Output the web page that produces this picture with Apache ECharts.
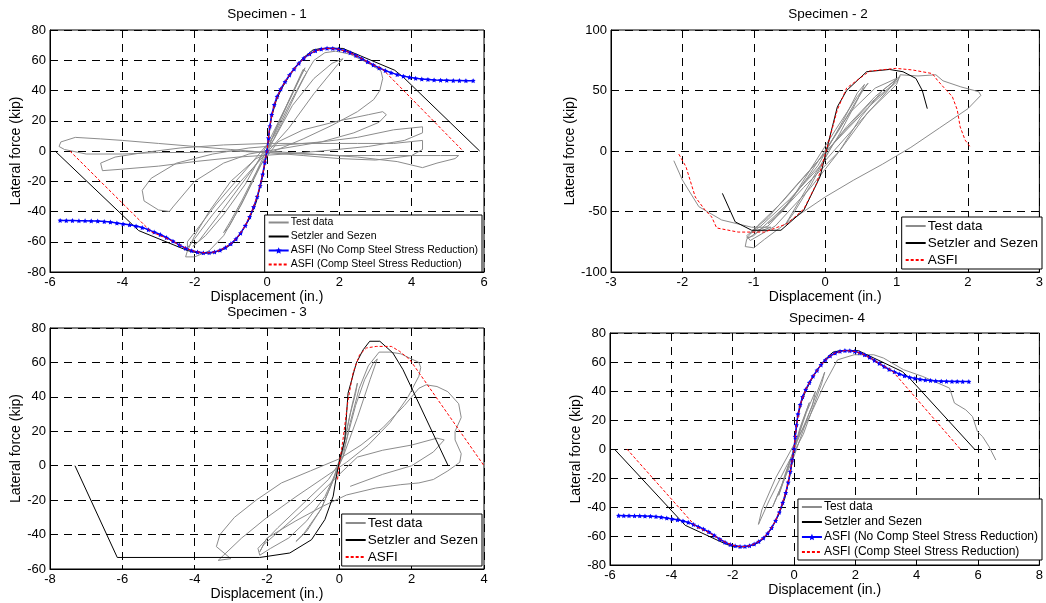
<!DOCTYPE html>
<html>
<head>
<meta charset="utf-8">
<script src="https://cdn.jsdelivr.net/npm/echarts@6/dist/echarts.min.js"></script>
<style>
html, body { margin: 0; padding: 0; background: #fff; }
#main { width: 1046px; height: 603px; }
</style>
</head>
<body>
<div id="main"></div>
<script>
// model curves, same for specimen 1 and 4
var modelSetzler = [[-5.86,0],[-3.55,-52.6],[-2.2,-65.8],[-2.0,-67.0],[-1.75,-67.6],[-1.5,-67.3],[-1.25,-65.6],[-1.0,-62.0],[-0.75,-55.5],[-0.5,-45.5],[-0.3,-34],[-0.15,-20],[-0.05,-8],[0,0],[0.05,10],[0.12,22],[0.25,33],[0.4,41],[0.6,49],[0.8,56],[1.0,61.5],[1.27,66.8],[1.5,67.8],[1.8,68],[2.1,67.8],[3.53,53.4],[3.76,49],[5.88,0]];
var modelAsfiNo = [[-5.72,-45.9],[-5.55,-46.0],[-5.38,-46.0],[-5.2,-46.1],[-5.03,-46.1],[-4.86,-46.2],[-4.68,-46.3],[-4.5,-46.6],[-4.33,-47.0],[-4.15,-47.6],[-3.98,-48.2],[-3.8,-48.8],[-3.62,-49.6],[-3.45,-50.6],[-3.28,-52.0],[-3.12,-53.6],[-2.95,-55.2],[-2.78,-57.2],[-2.6,-59.6],[-2.42,-62.2],[-2.25,-64.3],[-2.08,-65.9],[-1.92,-66.8],[-1.76,-67.3],[-1.6,-67.2],[-1.45,-66.7],[-1.3,-65.6],[-1.15,-63.8],[-1.0,-61.4],[-0.86,-58.2],[-0.73,-54.3],[-0.6,-49.4],[-0.48,-43.6],[-0.37,-37.0],[-0.27,-30.2],[-0.19,-23.0],[-0.12,-15.5],[-0.06,-7.5],[0,0],[0.04,8.5],[0.08,16.5],[0.13,24.0],[0.2,30.5],[0.28,36.0],[0.38,41.0],[0.5,45.8],[0.62,50.2],[0.75,54.2],[0.88,58.0],[1.02,61.4],[1.18,64.2],[1.34,66.2],[1.5,67.4],[1.66,67.9],[1.82,67.8],[1.98,67.3],[2.14,66.4],[2.3,65.0],[2.46,63.2],[2.62,61.1],[2.78,59.0],[2.94,56.9],[3.1,54.9],[3.27,53.2],[3.43,51.8],[3.6,50.5],[3.77,49.5],[3.94,48.7],[4.11,48.1],[4.28,47.6],[4.45,47.3],[4.62,47.0],[4.8,46.8],[4.97,46.7],[5.15,46.6],[5.32,46.6],[5.5,46.5],[5.7,46.5]];
var modelAsfiComp = [[-5.45,0],[-3.2,-53.5],[-3.0,-55.5],[-2.8,-57.5],[-2.6,-59.8],[-2.4,-62.4],[-2.2,-64.7],[-2.0,-66.3],[-1.8,-67.2],[-1.6,-67.3],[-1.4,-66.5],[-1.2,-64.4],[-1.0,-61.4],[-0.8,-56.5],[-0.6,-49.4],[-0.4,-38.8],[-0.25,-28.5],[-0.12,-15.5],[0,0],[0.08,16.5],[0.2,30.5],[0.38,41],[0.6,49.5],[0.85,57.2],[1.1,63],[1.35,66.3],[1.65,67.9],[1.95,67.4],[2.25,65.4],[2.55,62],[2.85,58],[3.2,54],[5.42,0]];

var s1Test = [[0,0],[0.3,18],[0.6,33],[0.9,48],[1.05,55],[0.95,50],[0.55,30],[0.1,6],[-0.3,-14],[-0.7,-33],[-1.0,-46],[-1.2,-54],[-1.05,-50],[-0.6,-30],[-0.1,-6],
  [0.4,18],[0.8,38],[1.1,52],[1.0,54],[0.5,28],[0,4],[-0.6,-22],[-1.2,-42],[-1.7,-56],[-2.05,-63],[-1.9,-60],[-1.2,-38],[-0.4,-12],[0.2,8],
  [0.7,30],[1.3,48],[1.8,58],[2.1,61],[1.95,57],[1.3,38],[0.6,15],[0,-1],[-0.8,-22],[-1.5,-42],[-2.0,-58],[-2.2,-64],[-2.2,-60],[-1.4,-35],[-0.5,-10],[0.2,10],
  [0.6,30],[1.0,48],[1.3,60],[1.6,65],[1.9,66],[2.3,64],[2.8,58],[3.15,53],[3.2,48],[3.12,40],[2.95,34],[2.5,26],[1.8,17],[1.0,8],[0.3,1],[-0.3,-5],[-1.0,-20],[-1.6,-40],[-2.0,-56],[-2.2,-66],[-2.25,-70],[-2.0,-70],[-1.6,-66],[-1.2,-56],[-0.7,-35],[-0.2,-10],[0.3,6],
  [1.0,14],[2.0,20],[2.8,24],[3.2,26],[3.3,24],[3.1,19],[2.4,12],[1.5,6],[0.5,2],[-0.5,-2],[-1.2,-8],[-2.0,-20],[-2.6,-37],[-2.7,-40],[-3.0,-39],[-3.4,-33],[-3.45,-26],[-3.2,-18],[-2.5,-8],[-1.5,-2],[-0.5,2],
  [0.5,4],[1.5,6],[2.5,9],[3.5,14],[4.3,16],[4.3,12],[3.8,7],[2.8,3],[1.5,0],[0.5,-2],[-0.8,-4],[-2.0,-7],[-3.0,-10],[-4.0,-12],[-4.55,-13],[-4.6,-8],[-4.2,-4],[-3.4,-1],[-2.4,2],[-1.2,4],
  [0,5],[1.2,5],[2.5,5],[3.5,5],[4.3,7],[4.3,1],[4.0,-3],[3.0,-6],[2.0,-5],[1.0,-3],[0,-1],[-1.0,1],[-2.0,3],[-3.0,5],[-4.0,7],[-4.6,8],[-5.3,9],[-5.7,6],[-5.75,3],[-5.6,1],[-5.0,-2],[-4.0,-2],[-3.0,-1],[-2.0,-1],[-1.0,0],
  [0,-1],[1.0,-2],[2.0,-3],[3.0,-3],[4.0,-3],[4.8,-3],[5.3,-3],[5.2,-5],[4.7,-8],[4.3,-11],[3.6,-7],[2.5,-4],[1.2,-2],[0,0]];

var s2Test = [[0,0],[0.2,18],[0.4,38],[0.55,52],[0.6,56],[0.45,45],[0.15,18],[-0.15,-10],[-0.45,-38],[-0.7,-55],[-0.8,-60],[-0.6,-50],[-0.25,-22],[0.05,5],
  [0.35,32],[0.7,52],[1.0,60],[0.95,55],[0.6,38],[0.2,12],[-0.2,-15],[-0.6,-42],[-0.95,-62],[-1.1,-72],[-1.0,-70],[-0.55,-45],[-0.1,-12],
  [0.25,25],[0.45,48],[0.55,55],[0.45,42],[0.2,14],[-0.1,-15],[-0.35,-40],[-0.55,-60],[-0.45,-52],[-0.2,-28],[0.1,5],
  [0.3,20],[0.7,45],[1.05,62],[1.0,57],[0.6,36],[0.1,5],[-0.4,-28],[-0.8,-55],[-1.1,-70],[-1.05,-74],[-0.7,-62],[-0.2,-30],[0.2,0],
  [0.5,28],[0.8,50],[1.0,59],[0.85,48],[0.45,22],[0,-8],[-0.5,-40],[-0.9,-62],[-1.05,-68],[-0.8,-62],[-0.3,-30],[0.2,0],
  [0.6,32],[1.0,55],[1.05,63],[1.3,62],[1.55,63],[1.65,58],[1.9,53],[2.15,49],[2.18,46],[2.0,35],[1.6,19],[1.2,3],[0.8,-11],[0.4,-24],[0,-38],[-0.3,-50],[-0.6,-62],[-0.85,-73],[-1.0,-80],[-1.12,-79],[-1.1,-73],[-0.95,-67],[-0.76,-63],[-1.03,-63],[-1.45,-57],[-1.77,-46],[-2.0,-24],[-2.12,-8]];
var s2Setzler = [[-1.44,-35],[-1.26,-58.6],[-1.03,-65.5],[-0.62,-65.5],[-0.3,-49],[-0.07,-21],[0.03,3.4],[0.17,36.5],[0.3,50],[0.58,65.5],[0.9,67.4],[1.09,65.5],[1.27,60],[1.36,50],[1.43,35]];
var s2Asfi = [[-2.05,-2.6],[-1.95,-13],[-1.82,-38],[-1.68,-49],[-1.59,-54.5],[-1.52,-63.6],[-1.22,-67],[-0.85,-67],[-0.53,-60],[-0.3,-48],[-0.12,-27],[0.03,3.4],[0.17,34],[0.3,52],[0.62,66],[0.99,68.3],[1.22,67],[1.5,64],[1.57,58.6],[1.66,52.6],[1.78,45],[1.85,34],[1.89,20],[1.96,9],[2.03,3.4]];

var s3Test = [[0,0],[0.15,15],[0.3,30],[0.45,42],[0.5,48],[0.35,35],[0.1,10],[-0.2,-10],[-0.5,-25],[-0.9,-38],[-1.2,-44],[-1.0,-40],[-0.5,-25],[-0.1,-5],
  [0.2,15],[0.45,35],[0.7,50],[0.95,60],[1.05,62],[0.85,50],[0.5,28],[0.1,5],[-0.4,-18],[-0.9,-32],[-1.4,-42],[-1.9,-48],[-2.2,-52],[-2.25,-48],[-1.7,-36],[-1.0,-22],[-0.3,-8],[0.1,5],
  [0.3,25],[0.55,45],[0.8,58],[1.1,66],[1.4,66],[1.7,65],[2.0,62],[2.2,60],[2.25,57],[2.2,52],[1.9,40],[1.4,25],[0.8,12],[0.2,2],[-0.5,-8],[-1.2,-18],[-2.0,-30],[-2.7,-42],[-3.2,-52],[-3.35,-55],[-3.0,-54],[-3.4,-47],[-3.3,-40],[-2.9,-30],[-2.3,-20],[-1.6,-10],[-0.8,-3],[0,4],
  [0.6,12],[1.2,22],[1.8,35],[2.2,45],[2.4,47],[2.7,46],[3.0,43],[3.3,36],[3.37,28],[3.2,20],[3.2,15],[3.37,7],[3.33,2],[3.0,-3],[2.6,-8],[2.2,-10],[1.7,-11],[1.0,-13],[0.2,-17],[-0.5,-24],[-1.2,-32],[-2.0,-42],[-2.2,-50],[-2.1,-46],[-1.5,-35],[-0.8,-22],[0,-5],
  [0.5,5],[1.2,9],[2.0,12],[2.7,16],[2.9,15],[2.6,8],[2.0,0],[1.2,-5],[0.3,-12]];
var s3Setzler = [[-7.31,0],[-6.14,-53.3],[-2.2,-53.3],[-1.37,-50.7],[-0.77,-43],[-0.4,-31.3],[-0.17,-17.7],[-0.08,-6],[0.01,3.3],[0.15,15],[0.24,42],[0.47,59.7],[0.66,67.4],[0.84,72.3],[1.12,72.3],[1.48,65.5],[1.76,55.8],[3.0,0.4]];
var s3Asfi = [[-0.05,-8],[0,1],[0.1,15],[0.24,38],[0.38,54],[0.56,64.5],[0.75,68.4],[1.02,69.3],[1.44,69.3],[1.67,66.4],[1.95,61.6],[4.0,0]];

var s4Test = [[0,0],[0.2,15],[0.5,32],[0.3,20],[0,0],[-0.3,-18],[-0.5,-32],[-0.3,-20],[0,0],[0.4,25],[0.7,40],[0.6,30],[0.1,5],[-0.4,-25],[-0.7,-40],[-0.5,-30],[0,-5],[0.5,25],[1.0,53],[0.9,45],[0.3,10],[-0.2,-10],[-0.8,-35],[-1.16,-52],[-1.05,-42],[-0.6,-20],[0,3],[0.5,22],[1.0,45],[1.42,61.5],[1.96,65],[2.6,65],[2.92,62.7],[3.57,54.7],[4.2,50],[5.07,42],[5.23,31.7],[5.6,27],[5.82,22.4],[5.98,12],[6.15,8.5],[6.36,1.6],[6.58,-7.6]];

var star = 'path://M0,-10L2.9,-4L9.5,-3.1L4.8,1.5L5.9,8.1L0,5L-5.9,8.1L-4.8,1.5L-9.5,-3.1L-2.9,-4Z';
var font = 'Liberation Sans';

var dom = document.getElementById('main');
var myChart = echarts.init(dom);

function xAx(idx, min, max, step, gap) {
	return {
		gridIndex: idx, type: 'value', min: min, max: max, interval: step,
		name: 'Displacement (in.)', nameLocation: 'middle', nameGap: gap,
		nameTextStyle: { fontSize: 14, color: '#000', fontFamily: font },
		axisLine: { show: true, onZero: false, lineStyle: { color: '#000' } },
		axisTick: { show: true, inside: true, length: 4, lineStyle: { color: '#000' } },
		axisLabel: { color: '#000', fontSize: 13, fontFamily: font, margin: 4 },
		splitLine: { show: true, lineStyle: { color: '#000', type: [8, 6], width: 1 } }
	};
}
function yAx(idx, min, max, step, gap) {
	return {
		gridIndex: idx, type: 'value', min: min, max: max, interval: step,
		name: 'Lateral force (kip)', nameLocation: 'middle', nameGap: gap,
		nameTextStyle: { fontSize: 14, color: '#000', fontFamily: font },
		axisLine: { show: true, onZero: false, lineStyle: { color: '#000' } },
		axisTick: { show: true, inside: true, length: 4, lineStyle: { color: '#000' } },
		axisLabel: { color: '#000', fontSize: 13, fontFamily: font, margin: 4 },
		splitLine: { show: true, lineStyle: { color: '#000', type: [8, 6], width: 1 } }
	};
}
function testS(name, idx, data) {
	return { name: name, type: 'line', xAxisIndex: idx, yAxisIndex: idx, data: data, symbol: 'none',
		lineStyle: { color: '#8c8c8c', width: 1 }, itemStyle: { color: '#8c8c8c' }, z: 2 };
}
function setzS(idx, data) {
	return { name: 'Setzler and Sezen', type: 'line', xAxisIndex: idx, yAxisIndex: idx, data: data, symbol: 'none',
		lineStyle: { color: '#000', width: 1 }, itemStyle: { color: '#000' }, z: 3 };
}
function redS(name, idx, data) {
	return { name: name, type: 'line', xAxisIndex: idx, yAxisIndex: idx, data: data, symbol: 'none',
		lineStyle: { color: '#ff0000', width: 1, type: [3, 2] }, itemStyle: { color: '#ff0000' }, z: 5 };
}
function blueS(idx, data) {
	return { name: 'ASFI (No Comp Steel Stress Reduction)', type: 'line', xAxisIndex: idx, yAxisIndex: idx, data: data,
		symbol: star, symbolSize: 5, showSymbol: true,
		lineStyle: { color: '#0000ff', width: 1.5 }, itemStyle: { color: '#0000ff' }, z: 4 };
}
function legend(names, right, top, fs, gap) {
	return {
		data: names.map(function(n) {
			return n.indexOf('No Comp') > -1 ? { name: n, itemStyle: { opacity: 1 } } : { name: n };
		}),
		orient: 'vertical', right: right, top: top, selectedMode: false,
		backgroundColor: '#fff', borderColor: '#000', borderWidth: 1, borderRadius: 0,
		padding: [2, 4, 2, 3], itemWidth: 20, itemHeight: 8, itemGap: gap,
		itemStyle: { opacity: 0 },
		textStyle: { fontSize: fs, color: '#000', fontFamily: font, padding: [0, 0, 0, -3] }
	};
}
var tStyle = { fontSize: 13.5, fontWeight: 'normal', color: '#000', fontFamily: font };
var longNames = ['Test data', 'Setzler and Sezen', 'ASFI (No Comp Steel Stress Reduction)', 'ASFI (Comp Steel Stress Reduction)'];
var shortNames = ['Test data', 'Setzler and Sezen', 'ASFI'];

option = {
	animation: false,
	backgroundColor: '#fff',
	title: [
		{ text: 'Specimen - 1', left: 267, top: 7, textAlign: 'center', textStyle: tStyle, padding: 0 },
		{ text: 'Specimen - 2', left: 828, top: 7, textAlign: 'center', textStyle: tStyle, padding: 0 },
		{ text: 'Specimen - 3', left: 267, top: 305, textAlign: 'center', textStyle: tStyle, padding: 0 },
		{ text: 'Specimen- 4', left: 827, top: 311, textAlign: 'center', textStyle: tStyle, padding: 0 }
	],
	grid: [
		{ left: 50, top: 30, width: 434, height: 242, show: true, borderColor: '#000', borderWidth: 1 },
		{ left: 611, top: 30, width: 434, height: 242, show: true, borderColor: '#000', borderWidth: 1 },
		{ left: 50, top: 328, width: 434, height: 241, show: true, borderColor: '#000', borderWidth: 1 },
		{ left: 610, top: 333, width: 434, height: 232, show: true, borderColor: '#000', borderWidth: 1 }
	],
	xAxis: [xAx(0, -6, 6, 2, 17), xAx(1, -3, 3, 1, 17), xAx(2, -8, 4, 2, 17), xAx(3, -6, 8, 2, 16)],
	yAxis: [yAx(0, -80, 80, 20, 27), yAx(1, -100, 100, 50, 34), yAx(2, -60, 80, 20, 27), yAx(3, -80, 80, 20, 25)],
	legend: [
		legend(longNames, 1046 - 482, 215, 10.5, 3),
		legend(shortNames, 4, 217, 13.5, 3),
		legend(shortNames, 1046 - 482, 514, 13.5, 3),
		legend(longNames, 4, 499, 12, 3)
	],
	series: [
		testS('Test data', 0, s1Test), setzS(0, modelSetzler), blueS(0, modelAsfiNo), redS('ASFI (Comp Steel Stress Reduction)', 0, modelAsfiComp),
		testS('Test data', 1, s2Test), setzS(1, s2Setzler), redS('ASFI', 1, s2Asfi),
		testS('Test data', 2, s3Test), setzS(2, s3Setzler), redS('ASFI', 2, s3Asfi),
		testS('Test data', 3, s4Test), setzS(3, modelSetzler), blueS(3, modelAsfiNo), redS('ASFI (Comp Steel Stress Reduction)', 3, modelAsfiComp)
	]
};
if (option && typeof option === 'object') {
	myChart.setOption(option, true);
}
</script>
</body>
</html>
